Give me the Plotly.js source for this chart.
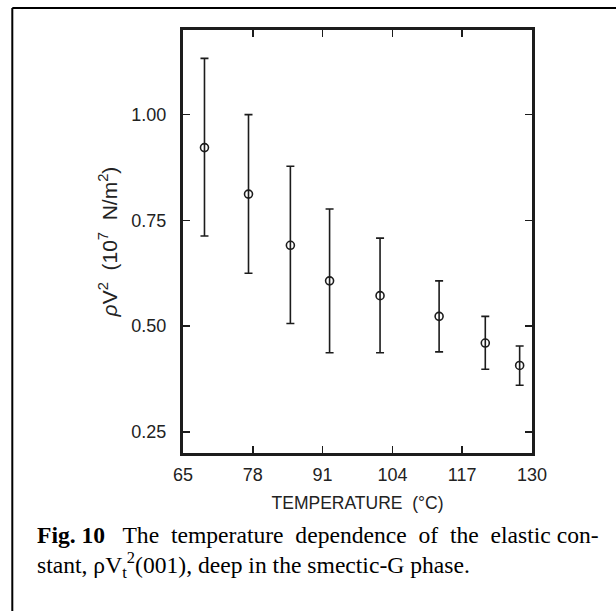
<!DOCTYPE html>
<html>
<head>
<meta charset="utf-8">
<script src="https://cdn.plot.ly/plotly-3.0.1.min.js"></script>
<style>body{margin:0;padding:0;background:#fff;} #chart{width:616px;height:611px;}</style>
</head>
<body>
<div id="chart"></div>
<script>
// Data
const temperature = [69.0, 77.2, 85.0, 92.3, 101.7, 112.7, 121.3, 127.7];
const rhoV2 = [0.922, 0.812, 0.691, 0.607, 0.572, 0.523, 0.460, 0.407];
const errTop = [1.133, 1.000, 0.878, 0.777, 0.708, 0.607, 0.523, 0.453];
const errBottom = [0.713, 0.625, 0.506, 0.437, 0.437, 0.439, 0.398, 0.360];
const xTicks = [65, 78, 91, 104, 117, 130];
const yTicks = [0.25, 0.50, 0.75, 1.00];
const yTickLabels = ["0.25", "0.50", "0.75", "1.00"];

const errPlus = rhoV2.map((v, i) => +(errTop[i] - v).toFixed(3));
const errMinus = rhoV2.map((v, i) => +(v - errBottom[i]).toFixed(3));

// Page geometry (pixels) -> paper coordinates
const W = 616, H = 611;
const L = 182.7, R = 531.7, T = 30, B = 453;
const px = x => (x - L) / (R - L);
const py = y => (B - y) / (B - T);

const ink = '#1c1c1c';

const trace = {
  x: temperature,
  y: rhoV2,
  type: 'scatter',
  mode: 'markers',
  marker: {symbol: 'circle-open', size: 8, color: ink, line: {width: 1.6, color: ink}},
  error_y: {type: 'data', symmetric: false, array: errPlus, arrayminus: errMinus,
            color: ink, thickness: 1.6, width: 4},
  showlegend: false,
  hoverinfo: 'x+y'
};

const axisFont = {family: 'Liberation Sans, Arial, Helvetica, sans-serif', size: 18, color: '#222'};

const layout = {
  width: W, height: H,
  margin: {l: L, r: W - R, t: T, b: H - B, pad: 0},
  paper_bgcolor: '#fff', plot_bgcolor: '#fff',
  xaxis: {
    range: [65, 130], tickmode: 'array', tickvals: xTicks, ticktext: xTicks.map(String),
    ticks: 'inside', ticklen: 7, tickwidth: 1.6, tickcolor: ink,
    showline: true, linewidth: 3, linecolor: ink, mirror: 'ticks',
    showgrid: false, zeroline: false, tickfont: axisFont, ticklabelstandoff: 3,
    title: {text: 'TEMPERATURE  (°C)', font: {family: 'Liberation Sans, Arial, sans-serif', size: 17.5, color: '#222'}, standoff: 14}
  },
  yaxis: {
    range: [0.20, 1.20], tickmode: 'array', tickvals: yTicks, ticktext: yTickLabels,
    ticks: 'inside', ticklen: 7, tickwidth: 1.6, tickcolor: ink,
    showline: true, linewidth: 3, linecolor: ink, mirror: 'ticks',
    showgrid: false, zeroline: false, tickfont: axisFont, ticklabelstandoff: 10,
    title: {text: '<i>ρ</i>V<sup>2</sup>  (10<sup>7</sup>  N/m<sup>2</sup>)', font: {family: 'Liberation Sans, Arial, sans-serif', size: 21, color: '#222'}, standoff: 9}
  },
  shapes: [
    {type: 'line', xref: 'paper', yref: 'paper', x0: px(12), x1: px(12), y0: py(8), y1: py(640), line: {color: '#000', width: 2}},
    {type: 'line', xref: 'paper', yref: 'paper', x0: px(12), x1: px(640), y0: py(8), y1: py(8), line: {color: '#000', width: 2}}
  ],
  annotations: [
    {xref: 'paper', yref: 'paper', x: px(35), y: py(535), xanchor: 'left', yanchor: 'middle', showarrow: false,
     text: '<b>Fig. 10</b>   The  temperature  dependence  of  the  elastic con-',
     font: {family: 'Liberation Serif, Times New Roman, serif', size: 23.6, color: '#000'}},
    {xref: 'paper', yref: 'paper', x: px(35), y: py(565), xanchor: 'left', yanchor: 'middle', showarrow: false,
     text: 'stant, ρV<sub>t</sub><sup>2</sup>(001), deep in the smectic-G phase.',
     font: {family: 'Liberation Serif, Times New Roman, serif', size: 23.6, color: '#000'}}
  ]
};

Plotly.newPlot('chart', [trace], layout, {displayModeBar: false, staticPlot: true});
</script>
</body>
</html>
